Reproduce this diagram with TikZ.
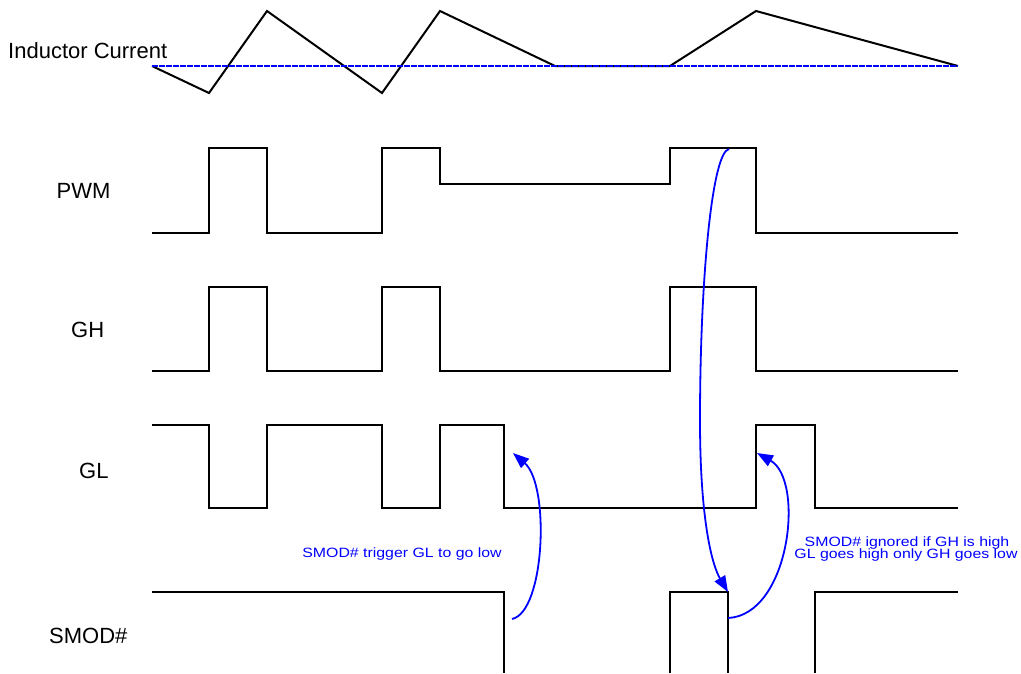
\documentclass[tikz,border=0pt]{standalone}
\usepackage{fontspec}
\setmainfont{Liberation Sans}
\usetikzlibrary{arrows.meta}
\begin{document}
\begin{tikzpicture}[x=1pt,y=-1pt,
  wave/.style={line width=2pt, line join=miter, black},
  lbl/.style={anchor=base west, inner sep=0pt, font=\fontsize{22}{26}\selectfont},
  note/.style={anchor=base, inner sep=0pt, text=blue, font=\fontsize{13.5}{13.5}\selectfont},
  zero/.style={blue, line width=1.8pt, dash pattern=on 6pt off 1pt},
  causal/.style={blue, line width=1.8pt, -{Triangle[length=16pt,width=12pt]}}]
\useasboundingbox (0,0) rectangle (1021,673);
% labels
\node[lbl] (lI) at (8,58) {Inductor Current};
\node[lbl] (lP) at (56.5,198) {PWM};
\node[lbl] (lH) at (71,337) {GH};
\node[lbl] (lL) at (79,478) {GL};
\node[lbl] (lS) at (49,643) {SMOD\#};
% inductor current
\draw[wave] (152,66) -- (209,93) -- (267,11) -- (382,93) -- (440,11) -- (555,66) -- (670,66) -- (756,11) -- (958,66);
\draw[zero] (152,66) -- (958,66);
% PWM
\draw[wave] (152,233) -- (209,233) -- (209,148) -- (267,148) -- (267,233) -- (382,233) -- (382,148) -- (440,148) -- (440,184) -- (670,184) -- (670,148) -- (756,148) -- (756,233) -- (958,233);
% GH
\draw[wave] (152,371) -- (209,371) -- (209,287) -- (267,287) -- (267,371) -- (382,371) -- (382,287) -- (440,287) -- (440,371) -- (670,371) -- (670,287) -- (756,287) -- (756,371) -- (958,371);
% GL
\draw[wave] (152,425) -- (209,425) -- (209,508) -- (267,508) -- (267,425) -- (382,425) -- (382,508) -- (440,508) -- (440,425) -- (504,425) -- (504,508) -- (756,508) -- (756,425) -- (815,425) -- (815,508) -- (958,508);
% SMOD#
\draw[wave] (152,592) -- (504,592) -- (504,673);
\draw[wave] (670,673) -- (670,592) -- (728,592) -- (728,673);
\draw[wave] (815,673) -- (815,592) -- (958,592);
% arrows
\coordinate (a1s) at (512,619);
\coordinate (a1e) at (513,453);
\coordinate (a2s) at (729,149);
\coordinate (a2m) at (700,420);
\coordinate (a2e) at (728,592);
\coordinate (a3s) at (728,618);
\coordinate (a3e) at (757,453);
\draw[causal] (a1s) .. controls (545,612) and (550,485) .. (a1e);
\draw[causal] (a2s) .. controls (712,152) and (700,280) .. (a2m) .. controls (700,520) and (712,565) .. (a2e);
\draw[causal] (a3s) .. controls (790,615) and (805,480) .. (a3e);
% notes
\node[note] (n1) at (402,557) {\scalebox{1.175}[1]{SMOD\# trigger GL to go low}};
\node[note] (n2a) at (907,546) {\scalebox{1.175}[1]{SMOD\# ignored if GH is high}};
\node[note] (n2b) at (906,558.5) {\scalebox{1.175}[1]{GL goes high only GH goes low}};
\end{tikzpicture}
\end{document}
